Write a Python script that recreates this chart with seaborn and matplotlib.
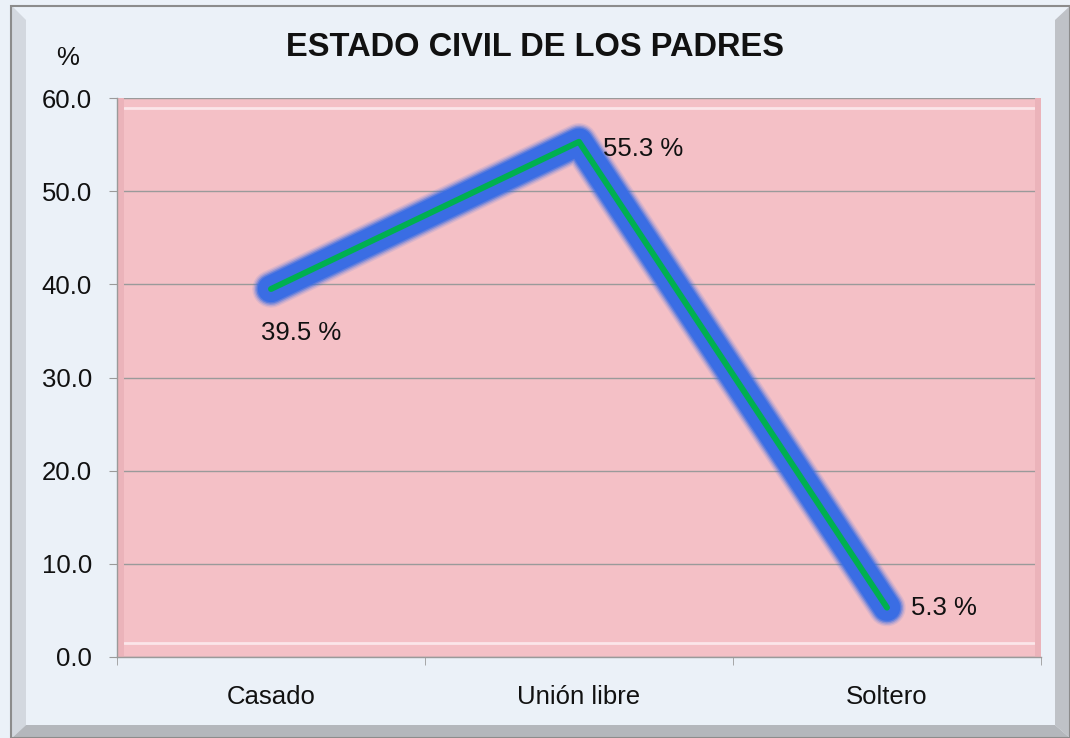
import numpy as np
import pandas as pd
import matplotlib
matplotlib.use('Agg')
import matplotlib.pyplot as plt
from matplotlib.patches import Rectangle, Polygon
import seaborn as sns

# data
categories = ['Casado', 'Unión libre', 'Soltero']
percentages = [39.5, 55.3, 5.3]
point_labels = ['39.5 %', '55.3 %', '5.3 %']
y_ticks = [0, 10, 20, 30, 40, 50, 60]
title = 'ESTADO CIVIL DE LOS PADRES'

df = pd.DataFrame({'estado': categories, 'pct': percentages})

W, H = 1070, 738
sns.set_style('white')
plt.rcParams['font.family'] = ['Liberation Sans', 'DejaVu Sans']

fig = plt.figure(figsize=(W / 100, H / 100), dpi=100)
fig.patch.set_facecolor('#EBF1F8')


def fx(x):
    return x / W


def fy(y):
    return 1 - y / H


# outer frame with a bevel, like the spreadsheet chart border
fig.patches.append(Polygon([(fx(12), fy(6)), (fx(26), fy(20)), (fx(26), fy(725)),
                            (fx(12), fy(738))], closed=True, transform=fig.transFigure,
                           facecolor='#D3D8DF', edgecolor='none'))
fig.patches.append(Polygon([(fx(12), fy(738)), (fx(26), fy(725)), (fx(1055), fy(725)),
                            (fx(1070), fy(738))], closed=True, transform=fig.transFigure,
                           facecolor='#B4B7BC', edgecolor='none'))
fig.patches.append(Polygon([(fx(1055), fy(20)), (fx(1070), fy(6)), (fx(1070), fy(738)),
                            (fx(1055), fy(725))], closed=True, transform=fig.transFigure,
                           facecolor='#BFC2C7', edgecolor='none'))
fig.patches.append(Rectangle((fx(11), fy(738)), fx(1059), fy(6) - fy(738),
                             transform=fig.transFigure, fill=False,
                             edgecolor='#8C8C8C', linewidth=1.5))

ax = fig.add_axes([fx(117), fy(657), fx(1041) - fx(117), fy(98) - fy(657)])
ax.set_facecolor('#F4C0C6')

# soft blue glow under the line
for lw, a in [(27, 0.12), (25, 0.2), (23, 0.35), (21, 0.6), (19, 1.0)]:
    sns.lineplot(data=df, x='estado', y='pct', sort=False, ax=ax, color='#3A6DE4',
                 linewidth=lw, alpha=a, solid_capstyle='round',
                 solid_joinstyle='round', zorder=3)
sns.lineplot(data=df, x='estado', y='pct', sort=False, ax=ax, color='#00B050',
             linewidth=4.3, solid_capstyle='round', solid_joinstyle='round', zorder=4)

# data labels
offsets = [(22, -32, 'center'), (17, -5, 'left'), (17, 0, 'left')]
for i, (lab, val) in enumerate(zip(point_labels, percentages)):
    dx, dy, ha = offsets[i]
    ax.annotate(lab, (i, val), xytext=(dx, dy), textcoords='offset points',
                ha=ha, va='center', fontsize=18.5, color='#111111', zorder=5)

ax.set_xlim(-0.5, 2.5)
ax.set_ylim(0, 60)
ax.set_yticks(y_ticks)
ax.set_yticklabels([f'{v:.1f}' for v in y_ticks])
ax.set_xticks(range(len(categories)))
ax.set_xticklabels(categories)
ax.set_xticks([-0.5, 0.5, 1.5, 2.5], minor=True)
ax.set_xlabel('')
ax.set_ylabel('')

ax.grid(axis='y', color='#9A9A9A', linewidth=1.0, zorder=1)
ax.set_axisbelow(True)

# plot area bevel highlights
ax.axhline(58.9, xmin=0.008, xmax=0.992, color='#FBE6E9', linewidth=2.0, zorder=2)
ax.axhline(1.5, xmin=0.008, xmax=0.992, color='#FBE6E9', linewidth=2.0, zorder=2)
ax.axvline(-0.49, color='#EBB3BA', linewidth=5, zorder=2)
ax.axvline(2.49, color='#EBB3BA', linewidth=5, zorder=2)

for side in ['top', 'right']:
    ax.spines[side].set_visible(False)
for side in ['left', 'bottom']:
    ax.spines[side].set_color('#9A9A9A')
    ax.spines[side].set_linewidth(1.0)

ax.tick_params(axis='y', which='major', length=6, color='#9A9A9A', pad=12,
               labelsize=18.5, labelcolor='#111111', left=True)
ax.tick_params(axis='x', which='major', length=0, pad=20, labelsize=18.5,
               labelcolor='#111111')
ax.tick_params(axis='x', which='minor', length=6, color='#9A9A9A', bottom=True)

fig.text(0.5, fy(47), title, ha='center', va='center', fontsize=23.5,
         fontweight='bold', color='#111111')
fig.text(fx(68), fy(58), '%', ha='center', va='center', fontsize=18.5, color='#111111')

fig.savefig('out.png', dpi=100, facecolor=fig.get_facecolor())
